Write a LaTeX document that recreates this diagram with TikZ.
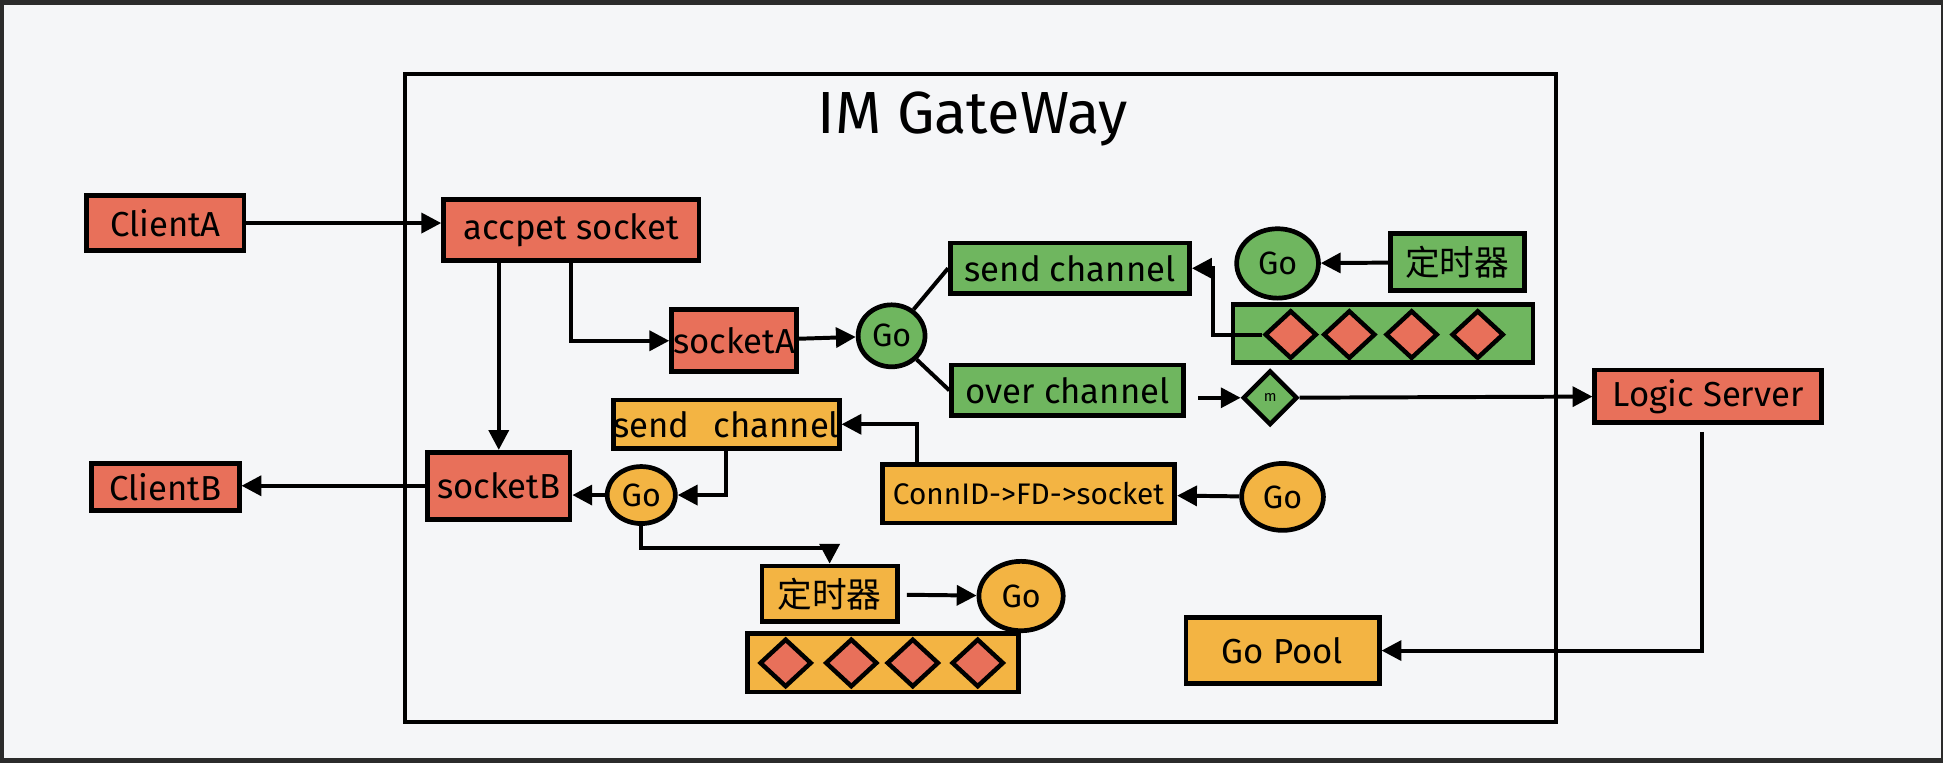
\documentclass[tikz,border=0pt]{standalone}
\usepackage{fontspec}
\setmainfont{Fira Sans}
\newfontfamily\cjk{Noto Sans CJK SC}
\usetikzlibrary{shapes.geometric,arrows.meta}

\definecolor{redfill}{HTML}{E8705A}
\definecolor{greenfill}{HTML}{6FB65F}
\definecolor{yellowfill}{HTML}{F3B443}
\definecolor{paper}{HTML}{F5F6F8}
\definecolor{screen}{HTML}{2B2B2B}

\tikzset{
  box/.style={draw=black, line width=1.9pt, inner sep=0pt, font=\fontsize{14}{16}\selectfont},
  redbox/.style={box, fill=redfill},
  greenbox/.style={box, fill=greenfill},
  yellowbox/.style={box, fill=yellowfill},
  goball/.style={ellipse, draw=black, line width=1.9pt, inner sep=0pt, font=\fontsize{13}{15}\selectfont},
  gem/.style={diamond, draw=black, line width=1.8pt, fill=redfill, inner sep=0pt, minimum width=21pt, minimum height=19.5pt},
  link/.style={line width=1.6pt, -{Triangle[length=8pt,width=8pt]}},
  plain/.style={line width=1.6pt},
}

\begin{document}
\begin{tikzpicture}[x=0.5pt, y=-0.5pt]
\fill[screen] (0,0) rectangle (1568,615.7);
\fill[paper] (3,4) rectangle (1566,612);
\useasboundingbox (0,0) rectangle (1568,615.7);

% gateway
\node[draw, line width=1.6pt, minimum width=464.5pt, minimum height=261.5pt] (gateway) at (791.5,321.5) {};
\node[font=\fontsize{24}{28}\selectfont] (title) at (785,96) {IM GateWay};

% clients and sockets
\node[redbox, minimum width=63.5pt, minimum height=22pt] (clientA) at (133.5,180) {ClientA};
\node[redbox, minimum width=103pt, minimum height=24.5pt] (accept) at (461,185.5) {accpet socket};
\node[redbox, minimum width=50.5pt, minimum height=25pt] (socketA) at (592.5,275) {socketA};
\node[redbox, minimum width=57.5pt, minimum height=27pt] (socketB) at (402.5,392) {socketB};
\node[redbox, minimum width=59.5pt, minimum height=19pt] (clientB) at (133.5,393) {ClientB};
\node[redbox, minimum width=91.5pt, minimum height=21pt] (logic) at (1378.5,319.7) {Logic Server};

% green part
\node[goball, fill=greenfill, minimum width=27pt, minimum height=25pt] (goA) at (719.5,271) {Go};
\node[greenbox, minimum width=96.5pt, minimum height=20.5pt] (sendA) at (863.5,216.5) {send channel};
\node[greenbox, minimum width=93.5pt, minimum height=20.5pt] (overA) at (861.5,315) {over channel};
\node[goball, fill=greenfill, minimum width=33pt, minimum height=28pt] (goT) at (1031,212.6) {Go};
\node[greenbox, minimum width=54pt, minimum height=23pt] (timerA) at (1176,211.5) {\cjk 定时器};
\node[greenbox, minimum width=121pt, minimum height=23.5pt] (queueA) at (1116,269) {};
\foreach \i/\x in {1/1041.6,2/1088.9,3/1139.2,4/1192.5}
  \node[gem] (qa\i) at (\x,270) {};
\node[diamond, draw=black, line width=1.8pt, fill=greenfill, inner sep=0pt,
      minimum width=22pt, minimum height=22pt, font=\fontsize{6}{7}\selectfont] (merge) at (1025,321) {m};

% yellow part
\node[yellowbox, minimum width=84pt, minimum height=19.5pt] (sendB) at (586,342.4) {send\hspace{0.7em}channel};
\node[yellowbox, minimum width=118pt, minimum height=23.5pt, font=\fontsize{12}{14}\selectfont] (connmap) at (830,398.5) {ConnID->FD->socket};
\node[goball, fill=yellowfill, minimum width=33pt, minimum height=27pt] (goR) at (1035,401) {Go};
\node[goball, fill=yellowfill, minimum width=27.5pt, minimum height=23pt] (goB) at (517.5,399.5) {Go};
\node[yellowbox, minimum width=54.5pt, minimum height=22.5pt] (timerB) at (669.5,479.3) {\cjk 定时器};
\node[goball, fill=yellowfill, minimum width=34pt, minimum height=28pt] (goC) at (824,481) {Go};
\node[yellowbox, minimum width=109.5pt, minimum height=23.5pt] (queueB) at (712.5,535) {};
\foreach \i/\x in {1/634,2/687,3/736.6,4/789}
  \node[gem] (qb\i) at (\x,535) {};
\node[yellowbox, minimum width=78pt, minimum height=26.5pt] (gopool) at (1035,525) {Go Pool};

% connectors
\draw[link] (clientA.east) -- (clientA.east -| accept.west);
\draw[link] (socketB.north |- accept.south) -- (socketB.north);
\draw[link] (accept.south) |- (socketA.west);
\draw[link] (socketA) -- (goA);
\draw[plain] (goA) -- (sendA.west);
\draw[plain] (goA) -- (overA.west);
\draw[link] (timerA) -- (goT);
\draw[link] (qa1.west) -- ++(-40,0) |- (sendA.east);
\draw[link, shorten <=5pt] (overA.east |- merge.west) -- (merge.west);
\draw[link] (merge) -- (logic);
\draw[link] ([xshift=-2.5pt,yshift=-3pt]logic.south) |- (gopool.east);
\draw[link] (goR) -- (connmap);
\draw[link] ([xshift=-45pt]connmap.north) |- (sendB.east);
\draw[link] (sendB.south) |- (goB.east);
\draw[link] (goB.west) -- (goB.west -| socketB.east);
\draw[link] (socketB.west) -- (socketB.west -| clientB.east);
\draw[link] (goB.south) -- ++(0,18) -| (timerB.north);
\draw[link, shorten <=3pt] (timerB) -- (goC);
\end{tikzpicture}
\end{document}
